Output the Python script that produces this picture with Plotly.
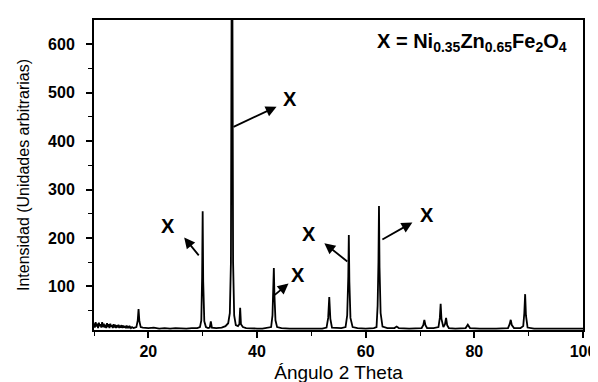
import plotly.graph_objects as go

two_theta = [
    10.0, 10.15, 10.3, 10.45, 10.6, 10.75, 10.9, 11.05, 11.2, 11.35, 11.5, 11.65, 11.8, 11.95,
    12.1, 12.25, 12.4, 12.55, 12.7, 12.85, 13.0, 13.15, 13.3, 13.45, 13.6, 13.75, 13.9, 14.05,
    14.2, 14.35, 14.5, 14.65, 14.8, 14.95, 15.1, 15.25, 15.4, 15.55, 15.7, 15.85, 16.0, 16.15,
    16.3, 16.45, 16.6, 16.8, 17.0, 17.25, 17.5,
    17.8, 18.05, 18.2, 18.35, 18.6,
    19.0, 20.0, 21.0, 22.0, 23.0, 24.0, 25.0, 26.0, 27.0, 28.0, 29.0, 29.5,
    29.75, 29.9, 30.0, 30.1, 30.3, 30.6, 31.0,
    31.3, 31.5, 31.7,
    32.5, 33.5, 34.2, 34.7, 35.0, 35.2, 35.4, 35.6, 35.8, 36.1, 36.5,
    36.75, 36.9, 37.05, 37.4,
    38.0, 39.0, 40.0, 41.0, 42.0, 42.6,
    42.85, 43.0, 43.1, 43.2, 43.4, 43.7,
    44.5, 46.0, 48.0, 50.0, 52.0, 52.8,
    53.1, 53.3, 53.5, 53.8,
    54.5, 55.5, 56.3,
    56.6, 56.8, 56.9, 57.0, 57.2, 57.6,
    58.5, 60.0, 61.5, 62.0,
    62.2, 62.35, 62.45, 62.55, 62.75, 63.1,
    64.0, 65.3, 65.7, 66.1, 68.0, 70.3,
    70.6, 70.8, 71.0, 71.3,
    72.5, 73.4,
    73.65, 73.8, 73.95, 74.3,
    74.6, 74.8, 75.0, 75.3,
    76.5, 78.4, 78.8, 79.2, 81.0, 84.0, 86.2,
    86.5, 86.7, 86.9, 87.3,
    88.5, 89.0, 89.2, 89.35, 89.5, 89.8,
    91.0, 94.0, 97.0, 100.0,
]
intensity = [
    24, 15, 26, 17, 23, 14, 25, 18, 22, 15, 26, 16, 23, 15,
    21, 14, 24, 16, 22, 14, 23, 17, 20, 14, 22, 15, 21, 14,
    20, 15, 21, 14, 19, 15, 20, 14, 19, 15, 18, 14, 19, 14,
    18, 14, 17, 14, 16, 14, 15,
    16, 30, 53, 28, 16,
    15, 14, 15, 13, 14, 13, 14, 13, 13, 14, 14, 16,
    30, 120, 255, 110, 28, 16, 14,
    15, 28, 15,
    14, 15, 18, 24, 45, 150, 1000, 150, 40, 20, 18,
    22, 56, 22, 16,
    14, 13, 13, 13, 14, 16,
    40, 90, 138, 85, 30, 16,
    14, 13, 13, 13, 13, 15,
    35, 78, 33, 15,
    14, 14, 16,
    40, 120, 206, 110, 35, 16,
    14, 13, 14, 16,
    60, 150, 266, 140, 45, 17,
    14, 14, 17, 14, 13, 14,
    20, 31, 20, 14,
    14, 16,
    35, 64, 33, 16,
    22, 35, 20, 14,
    13, 14, 21, 14, 13, 13, 14,
    22, 31, 20, 14,
    14, 18, 45, 84, 40, 15,
    13, 13, 13, 13,
]

# arrows: tail (near peak) -> head (near label), and label positions
arrow_tail_x = [29.5, 35.4, 43.0, 56.9, 62.8]
arrow_tail_y = [161, 428, 80, 149, 195]
arrow_head_x = [26.6, 43.6, 45.8, 52.4, 68.6]
arrow_head_y = [201, 471, 106, 189, 232]
label_x = [23.7, 46.0, 47.6, 49.6, 71.3]
label_y = [225, 486, 124, 209, 247]
label_text = "X"
legend_text = "X = Ni<sub>0.35</sub>Zn<sub>0.65</sub>Fe<sub>2</sub>O<sub>4</sub>"

FONT = "Liberation Sans, Arial, sans-serif"

fig = go.Figure()
fig.add_trace(go.Scatter(
    x=two_theta, y=intensity, mode="lines",
    line=dict(color="black", width=1.8), hoverinfo="skip", showlegend=False,
))

for tx, ty, hx, hy in zip(arrow_tail_x, arrow_tail_y, arrow_head_x, arrow_head_y):
    fig.add_annotation(
        x=hx, y=hy, ax=tx, ay=ty, xref="x", yref="y", axref="x", ayref="y",
        text="", showarrow=True, arrowhead=2, arrowsize=1.2, arrowwidth=1.8,
        arrowcolor="black", standoff=0, startstandoff=0,
    )

for lx, ly in zip(label_x, label_y):
    fig.add_annotation(
        x=lx, y=ly, xref="x", yref="y", text=label_text, showarrow=False,
        font=dict(family=FONT, size=20, color="black", weight="bold"),
    )

fig.add_annotation(
    x=97.5, y=604, xref="x", yref="y", text=legend_text, showarrow=False,
    xanchor="right", yanchor="middle",
    font=dict(family=FONT, size=20, color="black", weight="bold"),
)

fig.update_layout(
    width=598, height=382,
    margin=dict(l=86, r=19, t=10, b=49),
    paper_bgcolor="white", plot_bgcolor="white",
    font=dict(family=FONT, color="black"),
    showlegend=False,
)
fig.update_xaxes(
    range=[10, 100], tickmode="array", tickvals=[20, 40, 60, 80, 100],
    ticks="outside", ticklen=6, tickwidth=1.5, tickcolor="black",
    minor=dict(tickmode="array", tickvals=[10, 30, 50, 70, 90], ticks="outside",
               ticklen=4, tickwidth=1.2, tickcolor="black"),
    showline=True, linecolor="black", linewidth=2, mirror=True,
    showgrid=False, zeroline=False,
    tickfont=dict(family=FONT, size=16, color="black", weight="bold"),
    title=dict(text="Ángulo 2 Theta", font=dict(family=FONT, size=19, color="black"), standoff=6),
)
fig.update_yaxes(
    range=[10, 650], tickmode="array", tickvals=[100, 200, 300, 400, 500, 600],
    ticks="outside", ticklen=6, tickwidth=1.5, tickcolor="black",
    minor=dict(tickmode="array", tickvals=[50, 150, 250, 350, 450, 550], ticks="outside",
               ticklen=4, tickwidth=1.2, tickcolor="black"),
    showline=True, linecolor="black", linewidth=2, mirror=True,
    showgrid=False, zeroline=False, ticklabelstandoff=8,
    tickfont=dict(family=FONT, size=16, color="black", weight="bold"),
    title=dict(text="Intensidad (Unidades arbitrarias)", font=dict(family=FONT, size=16, color="black"), standoff=14),
)

fig.write_html("out.html")
